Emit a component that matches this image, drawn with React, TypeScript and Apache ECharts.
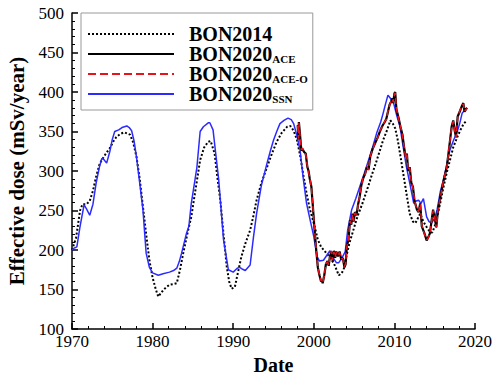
import React, { useEffect, useRef } from "react";
import * as echarts from "echarts";

const xTicks = [1970, 1980, 1990, 2000, 2010, 2020];
const yTicks = [100, 150, 200, 250, 300, 350, 400, 450, 500];

const bon2014Years = [
  1970.0, 1970.5, 1971.0, 1971.3, 1971.8, 1972.2, 1972.6, 1973.0, 1973.4, 1973.7, 1974.2, 1974.7,
  1975.1, 1975.5, 1976.0, 1976.5, 1977.2, 1977.6, 1978.0, 1978.4, 1978.8, 1979.2, 1979.6, 1980.0,
  1980.4, 1980.7, 1981.0, 1981.3, 1981.7, 1982.1, 1982.6, 1983.0, 1983.4, 1983.8, 1984.3, 1984.8,
  1985.3, 1985.9, 1986.4, 1986.9, 1987.2, 1987.7, 1988.0, 1988.4, 1988.8, 1989.2, 1989.5, 1989.8,
  1990.2, 1990.6, 1991.0, 1991.5, 1992.1, 1992.5, 1992.9, 1993.5, 1994.2, 1994.8, 1995.4, 1996.0,
  1996.7, 1997.1, 1997.5, 1997.9, 1998.3, 1998.7, 1999.1, 1999.5, 2000.0, 2000.5, 2000.9, 2001.4,
  2001.9, 2002.5, 2003.1, 2003.4, 2003.7, 2004.0, 2004.4, 2004.9, 2005.4, 2006.0, 2006.6, 2007.2,
  2007.7, 2008.2, 2008.6, 2009.1, 2009.5, 2009.8, 2010.1, 2010.4, 2010.7, 2011.0, 2011.3, 2011.6,
  2011.9, 2012.3, 2012.6, 2012.9, 2013.2, 2013.6, 2014.0, 2014.4, 2014.7, 2015.0, 2015.3, 2015.7,
  2016.1, 2016.5, 2016.9, 2017.3, 2017.8, 2018.2, 2018.6, 2018.9,
];
const bon2014Values = [
  200, 215, 250, 258, 258, 262, 275, 293, 308, 314, 322, 329,
  337, 343, 347, 349, 346, 336, 318, 290, 255, 220, 187, 165,
  150, 141, 145, 149, 153, 156, 157, 158, 175, 196, 220, 242,
  275, 314, 330, 337, 338, 322, 295, 263, 220, 179, 160, 151,
  153, 172, 191, 208, 225, 243, 263, 285, 305, 322, 337, 348,
  356, 357, 351, 340, 320, 295, 272, 252, 234, 213, 204, 198,
  192, 183, 168, 170, 175, 190, 208, 225, 242, 258, 276, 295,
  310, 326, 339, 352, 364, 360, 354, 340, 322, 303, 284, 265,
  246, 236, 234, 240, 246, 236, 229, 223, 222, 230, 242, 260,
  280, 298, 314, 330, 343, 352, 360, 363,
];

const ssnYears = [
  1970.0, 1970.2, 1970.6, 1971.0, 1971.5, 1971.8, 1972.2, 1972.6, 1973.0, 1973.4, 1973.7, 1974.0,
  1974.3, 1974.7, 1975.0, 1975.3, 1975.8, 1976.2, 1976.8, 1977.1, 1977.4, 1977.7, 1978.0, 1978.4,
  1978.8, 1979.2, 1979.6, 1980.0, 1980.7, 1981.3, 1982.1, 1982.6, 1983.0, 1983.3, 1983.6, 1984.2,
  1984.5, 1984.8, 1985.2, 1985.5, 1985.9, 1986.3, 1986.9, 1987.1, 1987.5, 1987.8, 1988.2, 1988.8,
  1989.4, 1990.0, 1990.5, 1990.8, 1991.1, 1991.5, 1992.1, 1992.5, 1992.9, 1993.5, 1994.2, 1994.6,
  1995.0, 1995.4, 1995.8, 1996.3, 1996.8, 1997.2, 1997.5, 1997.9, 1998.3, 1998.7, 1999.1, 1999.5,
  2000.0, 2000.4, 2000.7, 2001.2, 2001.6, 2002.0, 2002.4, 2002.8, 2003.1, 2003.5, 2003.9, 2004.2,
  2004.7, 2005.2, 2005.7, 2006.3, 2006.8, 2007.3, 2007.8, 2008.3, 2008.6, 2008.9, 2009.2, 2009.5,
  2009.9, 2010.3, 2010.7, 2011.1, 2011.5, 2012.0, 2012.4, 2012.7, 2013.0, 2013.3, 2013.6, 2014.0,
  2014.3, 2014.6, 2015.0, 2015.3, 2015.7, 2016.1, 2016.5, 2016.9, 2017.3, 2017.8, 2018.1, 2018.4,
  2018.8, 2019.0,
];
const ssnValues = [
  200, 202, 204, 230, 257, 252, 244, 258, 285, 305, 316, 314,
  310, 325, 340, 350, 352, 355, 357, 355, 351, 338, 318, 285,
  251, 196, 178, 171, 168, 170, 172, 174, 177, 185, 196, 221,
  230, 259, 285, 305, 350, 356, 361, 361, 352, 325, 289, 213,
  175, 172, 177, 178, 176, 174, 181, 215, 246, 282, 310, 325,
  339, 350, 360, 364, 367, 365, 360, 345, 326, 290, 259, 240,
  217, 192, 186, 187, 193, 199, 190, 184, 184, 190, 198, 225,
  251, 265, 280, 298, 314, 330, 348, 362, 373, 385, 396, 392,
  386, 370, 356, 330, 305, 280, 259, 262, 263, 259, 265, 242,
  236, 234, 240, 251, 274, 289, 308, 327, 338, 350, 360, 373,
  378, 380,
];

const aceYears = [
  1998.0, 1998.1, 1998.15, 1998.3, 1998.45, 1998.6, 1998.8, 1999.0, 1999.2, 1999.35, 1999.5, 1999.7,
  1999.85, 2000.1, 2000.3, 2000.5, 2000.7, 2000.9, 2001.0, 2001.1, 2001.3, 2001.5, 2001.7, 2001.85,
  2002.0, 2002.2, 2002.35, 2002.5, 2002.65, 2002.8, 2003.0, 2003.2, 2003.4, 2003.6, 2003.8, 2003.95,
  2004.1, 2004.3, 2004.5, 2004.65, 2004.8, 2004.95, 2005.1, 2005.3, 2005.5, 2005.7, 2005.9, 2006.1,
  2006.35, 2006.6, 2006.8, 2007.0, 2007.3, 2007.6, 2007.9, 2008.2, 2008.5, 2008.8, 2009.0, 2009.2,
  2009.4, 2009.6, 2009.75, 2009.85, 2010.0, 2010.1, 2010.25, 2010.5, 2010.75, 2011.0, 2011.2, 2011.4,
  2011.55, 2011.7, 2011.9, 2012.1, 2012.3, 2012.5, 2012.8, 2013.0, 2013.2, 2013.4, 2013.7, 2014.0,
  2014.2, 2014.4, 2014.6, 2014.8, 2015.0, 2015.2, 2015.4, 2015.7, 2016.1, 2016.5, 2016.8, 2017.1,
  2017.3, 2017.5, 2017.65, 2017.85, 2018.1, 2018.4, 2018.55, 2018.7, 2019.0,
];
const aceValues = [
  358, 340, 362, 345, 326, 328, 324, 322, 305, 300, 290, 280,
  260, 225, 200, 178, 168, 160, 162, 158, 168, 182, 186, 180,
  192, 198, 186, 199, 190, 198, 192, 198, 188, 190, 178, 182,
  205, 213, 238, 232, 246, 236, 248, 244, 258, 268, 282, 290,
  296, 305, 302, 318, 328, 335, 342, 350, 357, 362, 366, 375,
  384, 388, 392, 386, 398, 400, 378, 368, 356, 346, 330, 318,
  322, 300, 305, 285, 280, 262, 251, 248, 259, 230, 222, 212,
  216, 221, 236, 251, 240, 229, 250, 267, 288, 305, 330, 356,
  364, 350, 343, 369, 375, 383, 386, 375, 380,
];
const aceOValues = [
  357, 341, 361, 344, 327, 329, 323, 321, 306, 299, 291, 279,
  261, 224, 201, 177, 169, 161, 163, 159, 167, 183, 185, 181,
  191, 199, 187, 198, 191, 197, 193, 197, 189, 189, 179, 183,
  204, 214, 237, 233, 245, 237, 247, 245, 257, 269, 281, 291,
  295, 306, 301, 319, 327, 336, 341, 351, 356, 363, 365, 376,
  383, 389, 391, 387, 397, 399, 379, 367, 357, 345, 331, 317,
  321, 301, 304, 286, 279, 263, 250, 249, 258, 231, 221, 213,
  215, 222, 235, 250, 241, 228, 251, 266, 289, 304, 331, 355,
  363, 351, 342, 368, 376, 382, 385, 376, 379,
];

const pairs = (xs: number[], ys: number[]) => xs.map((x, i) => [x, ys[i]]);

const FONT = "Liberation Serif";

export default function App() {
  const ref = useRef<HTMLDivElement>(null);
  useEffect(() => {
    if (!ref.current) return;
    const chart = echarts.init(ref.current, null, { renderer: "svg" });
    const rich = {
      a: { fontFamily: FONT, fontWeight: "bold", fontSize: 20, color: "#000", lineHeight: 20 },
      s: { fontFamily: FONT, fontWeight: "bold", fontSize: 11, color: "#000", lineHeight: 20, verticalAlign: "bottom" },
    };
    chart.setOption({
      animation: false,
      backgroundColor: "#fff",
      grid: { left: 72, right: 19, top: 13, bottom: 46, containLabel: false, outerBoundsMode: "none" },
      legend: {
        left: 81,
        top: 13,
        orient: "vertical",
        data: ["BON2014", "BON2020ACE", "BON2020ACE-O", "BON2020SSN"],
        backgroundColor: "#fff",
        borderColor: "#999",
        borderWidth: 1,
        padding: [11, 5, 6, 6],
        itemGap: 0,
        itemWidth: 86,
        itemHeight: 10,
        itemStyle: { opacity: 0 },
        formatter: (name: string) => {
          if (name === "BON2014") return "{a|BON2014}";
          return "{a|BON2020}{s|" + name.slice(7) + "}";
        },
        textStyle: { fontFamily: FONT, fontWeight: "bold", fontSize: 20, padding: [0, 0, 0, 10], rich },
      },
      xAxis: {
        type: "value",
        min: 1970,
        max: 2020,
        interval: 10,
        name: "Date",
        nameLocation: "middle",
        nameGap: 23,
        nameTextStyle: { fontFamily: FONT, fontWeight: "bold", fontSize: 20, color: "#000" },
        axisLine: { lineStyle: { color: "#000", width: 1.5 } },
        axisTick: { inside: true, length: 6, lineStyle: { color: "#000", width: 1.5 } },
        minorTick: { show: true, splitNumber: 5, length: 3, lineStyle: { color: "#000", width: 1 } },
        axisLabel: {
          fontFamily: FONT, fontSize: 17, color: "#000", margin: 4,
          formatter: (v: number) => (xTicks.includes(v) ? String(v) : ""),
        },
        splitLine: { show: false },
      },
      yAxis: {
        type: "value",
        min: 100,
        max: 500,
        interval: 50,
        name: "Effective dose (mSv/year)",
        nameLocation: "middle",
        nameGap: 42,
        nameTextStyle: { fontFamily: FONT, fontWeight: "bold", fontSize: 21, color: "#000" },
        axisLine: { show: true, lineStyle: { color: "#000", width: 1.5 } },
        axisTick: { show: true, inside: true, length: 6, lineStyle: { color: "#000", width: 1.5 } },
        minorTick: { show: true, splitNumber: 5, length: 3, lineStyle: { color: "#000", width: 1 } },
        axisLabel: {
          fontFamily: FONT, fontSize: 17, color: "#000", margin: 8,
          formatter: (v: number) => (yTicks.includes(v) ? String(v) : ""),
        },
        splitLine: { show: false },
      },
      series: [
        {
          name: "BON2014", type: "line", symbol: "none", data: pairs(bon2014Years, bon2014Values),
          lineStyle: { color: "#000", width: 2, type: "dotted" }, itemStyle: { color: "#000" }, z: 2,
        },
        {
          name: "BON2020SSN", type: "line", symbol: "none", data: pairs(ssnYears, ssnValues),
          lineStyle: { color: "#2b2bff", width: 1.5 }, itemStyle: { color: "#2b2bff" }, z: 3,
        },
        {
          name: "BON2020ACE", type: "line", symbol: "none", data: pairs(aceYears, aceValues),
          lineStyle: { color: "#000", width: 2.2 }, itemStyle: { color: "#000" }, z: 4,
        },
        {
          name: "BON2020ACE-O", type: "line", symbol: "none", data: pairs(aceYears, aceOValues),
          lineStyle: { color: "#e8121a", width: 1.5, type: "dashed" }, itemStyle: { color: "#e8121a" }, z: 5,
        },
      ],
    });
    return () => chart.dispose();
  }, []);
  return <div ref={ref} style={{ width: 494, height: 375, position: "absolute", left: 0, top: 0 }} />;
}
